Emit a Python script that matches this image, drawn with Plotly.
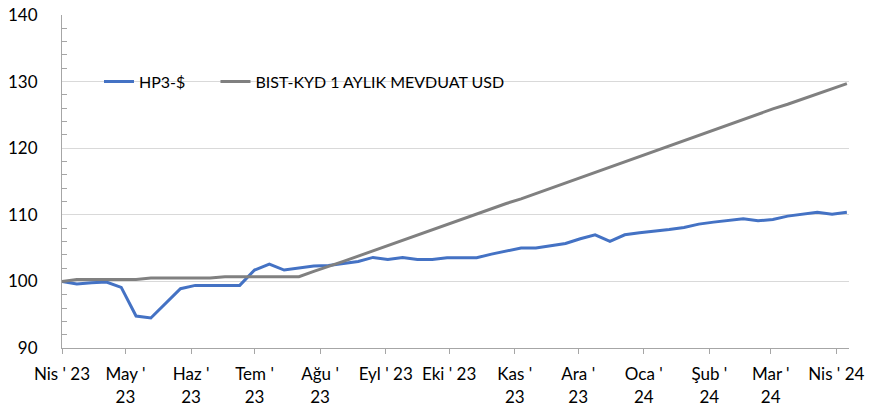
import pandas as pd
import plotly.graph_objects as go

# Weekly observations, April 2023 - April 2024
dates = pd.date_range("2023-04-01", periods=54, freq="7D")

hp3_usd = [
    100.0, 99.6, 99.8, 99.9, 99.1, 94.8, 94.5, 96.7, 98.9, 99.4,
    99.4, 99.4, 99.4, 101.7, 102.6, 101.7, 102.0, 102.3, 102.4, 102.7,
    103.0, 103.6, 103.3, 103.6, 103.3, 103.3, 103.55, 103.55, 103.55, 104.1,
    104.5, 105.0, 105.0, 105.3, 105.7, 106.4, 107.0, 106.0, 107.0, 107.3,
    107.5, 107.8, 108.1, 108.6, 108.9, 109.2, 109.4, 109.1, 109.3, 109.8,
    110.1, 110.4, 110.1, 110.4,
]

bist_kyd_usd = [
    100.0, 100.3, 100.3, 100.3, 100.3, 100.3, 100.5, 100.5, 100.5, 100.5,
    100.5, 100.7, 100.7, 100.7, 100.7, 100.7, 100.7, 101.5, 102.2, 103.0,
    103.8, 104.6, 105.4, 106.2, 106.9, 107.7, 108.5, 109.3, 110.1, 110.9,
    111.7, 112.4, 113.2, 114.0, 114.8, 115.6, 116.4, 117.2, 118.0, 118.7,
    119.5, 120.3, 121.1, 121.9, 122.7, 123.5, 124.3, 125.1, 125.9, 126.6,
    127.4, 128.2, 129.0, 129.7,
]

month_ticks = pd.date_range("2023-04-01", "2024-04-01", freq="MS")
month_labels = [
    "Nis ' 23", "May '<br>23", "Haz '<br>23", "Tem '<br>23", "Ağu '<br>23",
    "Eyl ' 23", "Eki ' 23", "Kas '<br>23", "Ara '<br>23", "Oca '<br>24",
    "Şub '<br>24", "Mar '<br>24", "Nis ' 24",
]

FONT = "Lato"
AXIS_GREY = "#a6a6a6"

fig = go.Figure()
fig.add_trace(go.Scatter(
    x=dates, y=hp3_usd, name="HP3-$", mode="lines",
    line=dict(color="#4472C4", width=3), legend="legend",
))
fig.add_trace(go.Scatter(
    x=dates, y=bist_kyd_usd, name="BIST-KYD 1 AYLIK MEVDUAT USD", mode="lines",
    line=dict(color="#808080", width=3), legend="legend2",
))

legend_style = dict(
    orientation="h", y=0.80, xanchor="left", yanchor="middle",
    bgcolor="rgba(0,0,0,0)", font=dict(family=FONT, size=16, color="#000000"),
)

fig.update_layout(
    width=872, height=414,
    margin=dict(l=62, r=23, t=15, b=66, autoexpand=False),
    paper_bgcolor="white", plot_bgcolor="white",
    font=dict(family=FONT, size=16, color="#000000"),
    showlegend=True,
    legend=dict(x=0.047, **legend_style),
    legend2=dict(x=0.195, **legend_style),
)

fig.update_xaxes(
    type="date",
    range=["2023-04-01", "2024-04-07"],
    tickvals=month_ticks, ticktext=month_labels,
    ticks="outside", ticklen=5, tickcolor=AXIS_GREY,
    showline=True, linecolor=AXIS_GREY, linewidth=1,
    showgrid=False, zeroline=False, automargin=False,
    ticklabelstandoff=6,
    tickfont=dict(family=FONT, size=17),
)

fig.update_yaxes(
    range=[90, 140], dtick=10,
    showline=True, linecolor=AXIS_GREY, linewidth=1,
    showgrid=True, gridcolor="#d9d9d9", gridwidth=1,
    zeroline=False, ticks="", automargin=False,
    ticklabelstandoff=20,
    minor=dict(dtick=2, ticks="inside", ticklen=5, tickcolor=AXIS_GREY, showgrid=False),
    tickfont=dict(family=FONT, size=17),
)

fig.write_html("out.html")
